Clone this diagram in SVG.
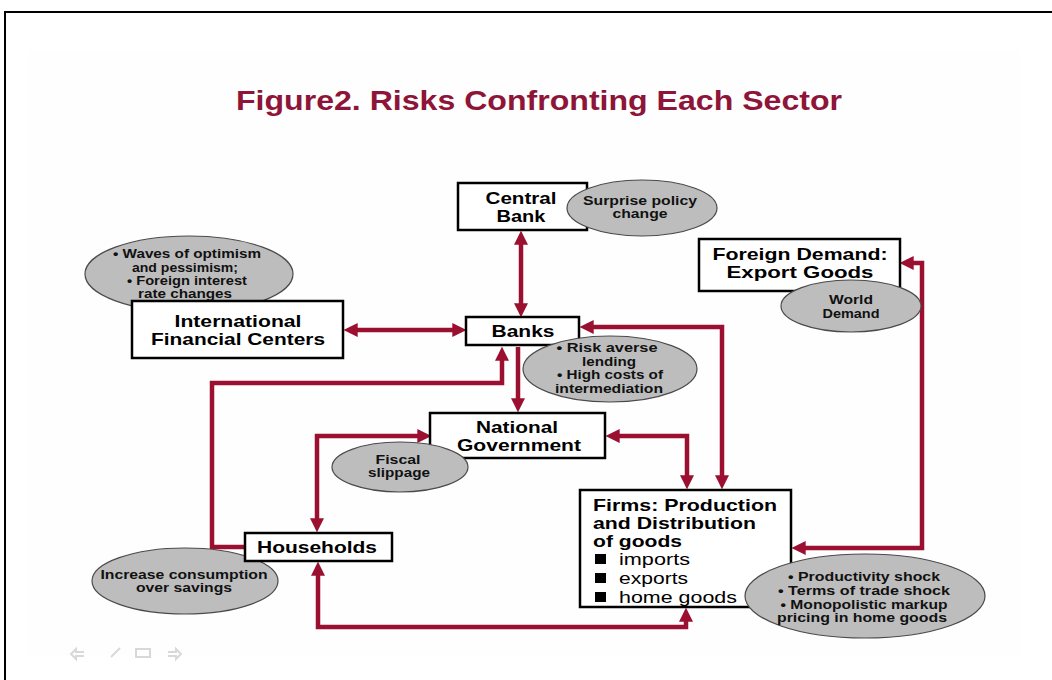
<svg xmlns="http://www.w3.org/2000/svg" width="1052" height="680" viewBox="0 0 1052 680">
<style>
.box{fill:#fff;stroke:#000;stroke-width:2.5}
.ell{fill:#bdbdbd;stroke:#4a4a4a;stroke-width:1.2}
.bt{font-family:"Liberation Sans",Arial,sans-serif;font-weight:bold;font-size:17px;fill:#000;text-anchor:middle}
.et{font-family:"Liberation Sans",Arial,sans-serif;font-weight:bold;font-size:12px;fill:#111;text-anchor:middle}
.ft{font-family:"Liberation Sans",Arial,sans-serif;font-size:17px;fill:#000}
.con{fill:none;stroke:#9b1030;stroke-width:4.5;stroke-linejoin:miter}
.nav{fill:none;stroke:#d8d8d8;stroke-width:2}
</style>
<defs>
<marker id="ah" viewBox="0 0 12 12" refX="4" refY="6" markerWidth="14" markerHeight="14" markerUnits="userSpaceOnUse" orient="auto-start-reverse">
<path d="M0,0 L12,6 L0,12 z" fill="#9b1030"/>
</marker>
</defs>
<rect width="1052" height="680" fill="#fff"/>
<rect x="28" y="50" width="992" height="605" fill="#fefefe"/>
<path d="M5,680 L5,12 L1052,12" fill="none" stroke="#000" stroke-width="2"/>
<g id="nav">
<path class="nav" d="M84,652 L76,652 L76,649 L71,654 L76,659 L76,656 L84,656"/>
<path class="nav" d="M111,657 L120,648"/>
<rect class="nav" x="136" y="649" width="14" height="8"/>
<path class="nav" d="M168,652 L176,652 L176,649 L181,654 L176,659 L176,656 L168,656"/>
</g>
<text id="title" x="539" y="110" textLength="606" lengthAdjust="spacingAndGlyphs" style="font-family:'Liberation Sans',Arial,sans-serif;font-weight:bold;font-size:28px;fill:#8e1538;text-anchor:middle">Figure2. Risks Confronting Each Sector</text>

<g id="connectors">
<path class="con" d="M521,240 L521,308" marker-start="url(#ah)" marker-end="url(#ah)"/>
<path class="con" d="M353,330 L457,330" marker-start="url(#ah)" marker-end="url(#ah)"/>
<path class="con" d="M518,347 L518,403" marker-end="url(#ah)"/>
<path class="con" d="M245,547 L212,547 L212,383 L502,383 L502,356" marker-end="url(#ah)"/>
<path class="con" d="M422,436 L317,436 L317,523" marker-start="url(#ah)" marker-end="url(#ah)"/>
<path class="con" d="M615,436 L687,436 L687,480" marker-start="url(#ah)" marker-end="url(#ah)"/>
<path class="con" d="M589,327 L722,327 L722,480" marker-start="url(#ah)" marker-end="url(#ah)"/>
<path class="con" d="M801,548 L922,548 L922,263 L909,263" marker-start="url(#ah)" marker-end="url(#ah)"/>
<path class="con" d="M318,571 L318,627 L686,627 L686,617" marker-start="url(#ah)" marker-end="url(#ah)"/>
</g>

<g id="central-bank">
<rect class="box" x="458" y="183" width="129" height="47"/>
<text class="bt" x="521" y="204" textLength="71" lengthAdjust="spacingAndGlyphs">Central</text>
<text class="bt" x="521" y="222" textLength="49" lengthAdjust="spacingAndGlyphs">Bank</text>
</g>
<g id="surprise-policy">
<ellipse class="ell" cx="642" cy="208" rx="75" ry="28"/>
<text class="et" x="640" y="205" textLength="114" lengthAdjust="spacingAndGlyphs">Surprise policy</text>
<text class="et" x="640" y="218" textLength="55" lengthAdjust="spacingAndGlyphs">change</text>
</g>

<g id="waves">
<ellipse class="ell" cx="189" cy="274" rx="104" ry="38"/>
<text class="et" x="187" y="258" textLength="148" lengthAdjust="spacingAndGlyphs">• Waves of optimism</text>
<text class="et" x="185" y="272" textLength="106" lengthAdjust="spacingAndGlyphs">and pessimism;</text>
<text class="et" x="187" y="285" textLength="120" lengthAdjust="spacingAndGlyphs">• Foreign interest</text>
<text class="et" x="185" y="298" textLength="94" lengthAdjust="spacingAndGlyphs">rate changes</text>
</g>
<g id="international-financial-centers">
<rect class="box" x="132" y="301" width="211" height="57"/>
<text class="bt" x="238" y="327" textLength="127" lengthAdjust="spacingAndGlyphs">International</text>
<text class="bt" x="238" y="345" textLength="174" lengthAdjust="spacingAndGlyphs">Financial Centers</text>
</g>

<g id="foreign-demand">
<rect class="box" x="699" y="239" width="201" height="52"/>
<text class="bt" x="800" y="260" textLength="175" lengthAdjust="spacingAndGlyphs">Foreign Demand:</text>
<text class="bt" x="800" y="278" textLength="147" lengthAdjust="spacingAndGlyphs">Export Goods</text>
</g>
<g id="world-demand">
<ellipse class="ell" cx="851" cy="306" rx="70" ry="26"/>
<text class="et" x="851" y="304" textLength="44" lengthAdjust="spacingAndGlyphs">World</text>
<text class="et" x="851" y="318" textLength="57" lengthAdjust="spacingAndGlyphs">Demand</text>
</g>

<g id="banks">
<rect class="box" x="466" y="317" width="113" height="28"/>
<text class="bt" x="523" y="337" textLength="63" lengthAdjust="spacingAndGlyphs">Banks</text>
</g>
<g id="bank-risks">
<ellipse class="ell" cx="610" cy="369" rx="87" ry="33"/>
<text class="et" x="607" y="352" textLength="101" lengthAdjust="spacingAndGlyphs">•  Risk averse</text>
<text class="et" x="609" y="366" textLength="54" lengthAdjust="spacingAndGlyphs">lending</text>
<text class="et" x="610" y="379" textLength="106" lengthAdjust="spacingAndGlyphs">• High costs of</text>
<text class="et" x="609" y="393" textLength="108" lengthAdjust="spacingAndGlyphs">intermediation</text>
</g>

<g id="national-government">
<rect class="box" x="430" y="413" width="175" height="45"/>
<text class="bt" x="517" y="433" textLength="82" lengthAdjust="spacingAndGlyphs">National</text>
<text class="bt" x="519" y="451" textLength="124" lengthAdjust="spacingAndGlyphs">Government</text>
</g>
<g id="fiscal-slippage">
<ellipse class="ell" cx="400" cy="467" rx="68" ry="25"/>
<text class="et" x="398" y="464" textLength="45" lengthAdjust="spacingAndGlyphs">Fiscal</text>
<text class="et" x="399" y="477" textLength="62" lengthAdjust="spacingAndGlyphs">slippage</text>
</g>

<g id="consumption">
<ellipse class="ell" cx="185" cy="581" rx="93" ry="33"/>
<text class="et" x="184" y="579" textLength="167" lengthAdjust="spacingAndGlyphs">Increase consumption</text>
<text class="et" x="184" y="592" textLength="96" lengthAdjust="spacingAndGlyphs">over savings</text>
</g>
<g id="households">
<rect class="box" x="245" y="533" width="147" height="28"/>
<text class="bt" x="317" y="553" textLength="120" lengthAdjust="spacingAndGlyphs">Households</text>
</g>

<g id="firms">
<rect class="box" x="580" y="490" width="211" height="117"/>
<text class="bt" x="593" y="511" style="text-anchor:start" textLength="184" lengthAdjust="spacingAndGlyphs">Firms: Production</text>
<text class="bt" x="593" y="529" style="text-anchor:start" textLength="163" lengthAdjust="spacingAndGlyphs">and Distribution</text>
<text class="bt" x="593" y="547" style="text-anchor:start" textLength="89" lengthAdjust="spacingAndGlyphs">of goods</text>
<rect x="595" y="554" width="11" height="10" fill="#000"/>
<text class="ft" x="619" y="565" textLength="71" lengthAdjust="spacingAndGlyphs">imports</text>
<rect x="595" y="573" width="11" height="10" fill="#000"/>
<text class="ft" x="619" y="584" textLength="69" lengthAdjust="spacingAndGlyphs">exports</text>
<rect x="595" y="592" width="11" height="10" fill="#000"/>
<text class="ft" x="619" y="603" textLength="118" lengthAdjust="spacingAndGlyphs">home goods</text>
</g>
<g id="firm-risks">
<ellipse class="ell" cx="865" cy="596" rx="120" ry="42"/>
<text class="et" x="864" y="581" textLength="152" lengthAdjust="spacingAndGlyphs">• Productivity shock</text>
<text class="et" x="864" y="595" textLength="172" lengthAdjust="spacingAndGlyphs">• Terms of trade  shock</text>
<text class="et" x="864" y="609" textLength="167" lengthAdjust="spacingAndGlyphs">• Monopolistic markup</text>
<text class="et" x="862" y="622" textLength="170" lengthAdjust="spacingAndGlyphs">pricing in home goods</text>
</g>
</svg>
